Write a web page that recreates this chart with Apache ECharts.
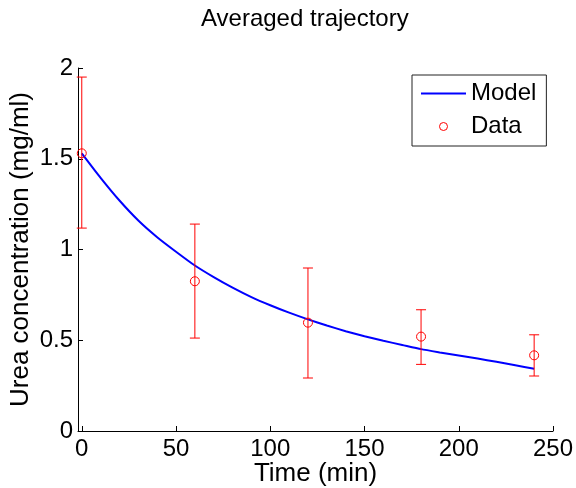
<!DOCTYPE html>
<html>
<head>
<meta charset="utf-8">
<script src="https://cdn.jsdelivr.net/npm/echarts@6/dist/echarts.min.js"></script>
<style>html,body{margin:0;padding:0;background:#fff;}#c{width:576px;height:488px;}</style>
</head>
<body>
<div id="c"></div>
<script>
// Model curve
const modelTime = [0,10,20,30,40,50,60,70,80,90,100,110,120,130,140,150,160,170,180,190,200,210,220,230,240];
const modelConc = [1.53,1.395,1.27,1.16,1.068,0.988,0.912,0.848,0.790,0.738,0.693,0.652,0.615,0.581,0.550,0.522,0.497,0.474,0.451,0.433,0.416,0.399,0.381,0.362,0.343];
// Data points with error bars
const dataTime = [0,60,120,180,240];
const dataConc = [1.53,0.825,0.597,0.52,0.417];
const dataLow  = [1.118,0.512,0.292,0.367,0.303];
const dataHigh = [1.95,1.14,0.898,0.668,0.53];
const xTicks = [0,50,100,150,200,250];

const chart = echarts.init(document.getElementById('c'), null, {renderer:'canvas'});
const fontFam = '"Liberation Sans", Arial, sans-serif';
chart.setOption({
  animation:false,
  backgroundColor:'#fff',
  title:{
    text:'Averaged trajectory', left:196, top:2,
    textStyle:{fontFamily:fontFam, fontSize:24, fontWeight:'normal', color:'#000'}
  },
  grid:{left:78, right:23, top:68, bottom:57, containLabel:false, outerBoundsMode:'none'},
  legend:{
    orient:'vertical', left:412, top:75,
    padding:[5,10,6,8], itemGap:6, itemWidth:45, itemHeight:8,
    borderColor:'#222', borderWidth:1, backgroundColor:'#fff', borderRadius:0,
    textStyle:{fontFamily:fontFam, fontSize:24, color:'#000', lineHeight:27, padding:[0,0,0,0]},
    data:[
      {name:'Model', itemStyle:{color:'rgba(0,0,0,0)', borderWidth:0, borderColor:'rgba(0,0,0,0)'}},
      {name:'Data', itemStyle:{borderWidth:1}}
    ]
  },
  xAxis:{
    type:'value', min:-2, max:250,
    name:'Time (min)', nameLocation:'middle', nameGap:30, nameMoveOverlap:false,
    nameTextStyle:{fontFamily:fontFam, fontSize:26, color:'#000'},
    axisLine:{show:true, onZero:false, lineStyle:{color:'#000', width:1}},
    axisTick:{show:true, inside:true, length:5, customValues:xTicks, lineStyle:{color:'#000'}},
    axisLabel:{customValues:xTicks, fontFamily:fontFam, fontSize:24, color:'#000', margin:6},
    splitLine:{show:false}
  },
  yAxis:{
    type:'value', min:0, max:2, interval:0.5,
    name:'Urea concentration (mg/ml)', nameLocation:'middle', nameGap:44, nameMoveOverlap:false,
    nameTextStyle:{fontFamily:fontFam, fontSize:26, color:'#000'},
    axisLine:{show:true, onZero:false, lineStyle:{color:'#000', width:1}},
    axisTick:{show:true, inside:true, length:5, lineStyle:{color:'#000'}},
    axisLabel:{fontFamily:fontFam, fontSize:24, color:'#000', margin:5},
    splitLine:{show:false}
  },
  series:[
    {
      name:'Model', type:'line', symbol:'none', smooth:0.2,
      lineStyle:{color:'#0000ff', width:2}, itemStyle:{color:'#0000ff'},
      data: modelTime.map((t,i)=>[t, modelConc[i]]), z:2
    },
    {
      name:'Errors', type:'custom',
      data: dataTime.map((t,i)=>[t, dataLow[i], dataHigh[i]]),
      renderItem:function(params, api){
        const x = api.value(0);
        const lo = api.coord([x, api.value(1)]);
        const hi = api.coord([x, api.value(2)]);
        const w = 5;
        const st = {stroke:'#ff0000', lineWidth:1};
        return {type:'group', children:[
          {type:'line', shape:{x1:lo[0], y1:lo[1], x2:hi[0], y2:hi[1]}, style:st},
          {type:'line', shape:{x1:lo[0]-w, y1:lo[1], x2:lo[0]+w, y2:lo[1]}, style:st},
          {type:'line', shape:{x1:hi[0]-w, y1:hi[1], x2:hi[0]+w, y2:hi[1]}, style:st}
        ]};
      }, z:3
    },
    {
      name:'Data', type:'scatter', symbol:'circle', symbolSize:9,
      itemStyle:{color:'rgba(255,255,255,0)', borderColor:'#ff0000', borderWidth:1, opacity:1},
      data: dataTime.map((t,i)=>[t, dataConc[i]]), z:4
    }
  ]
});
</script>
</body>
</html>
